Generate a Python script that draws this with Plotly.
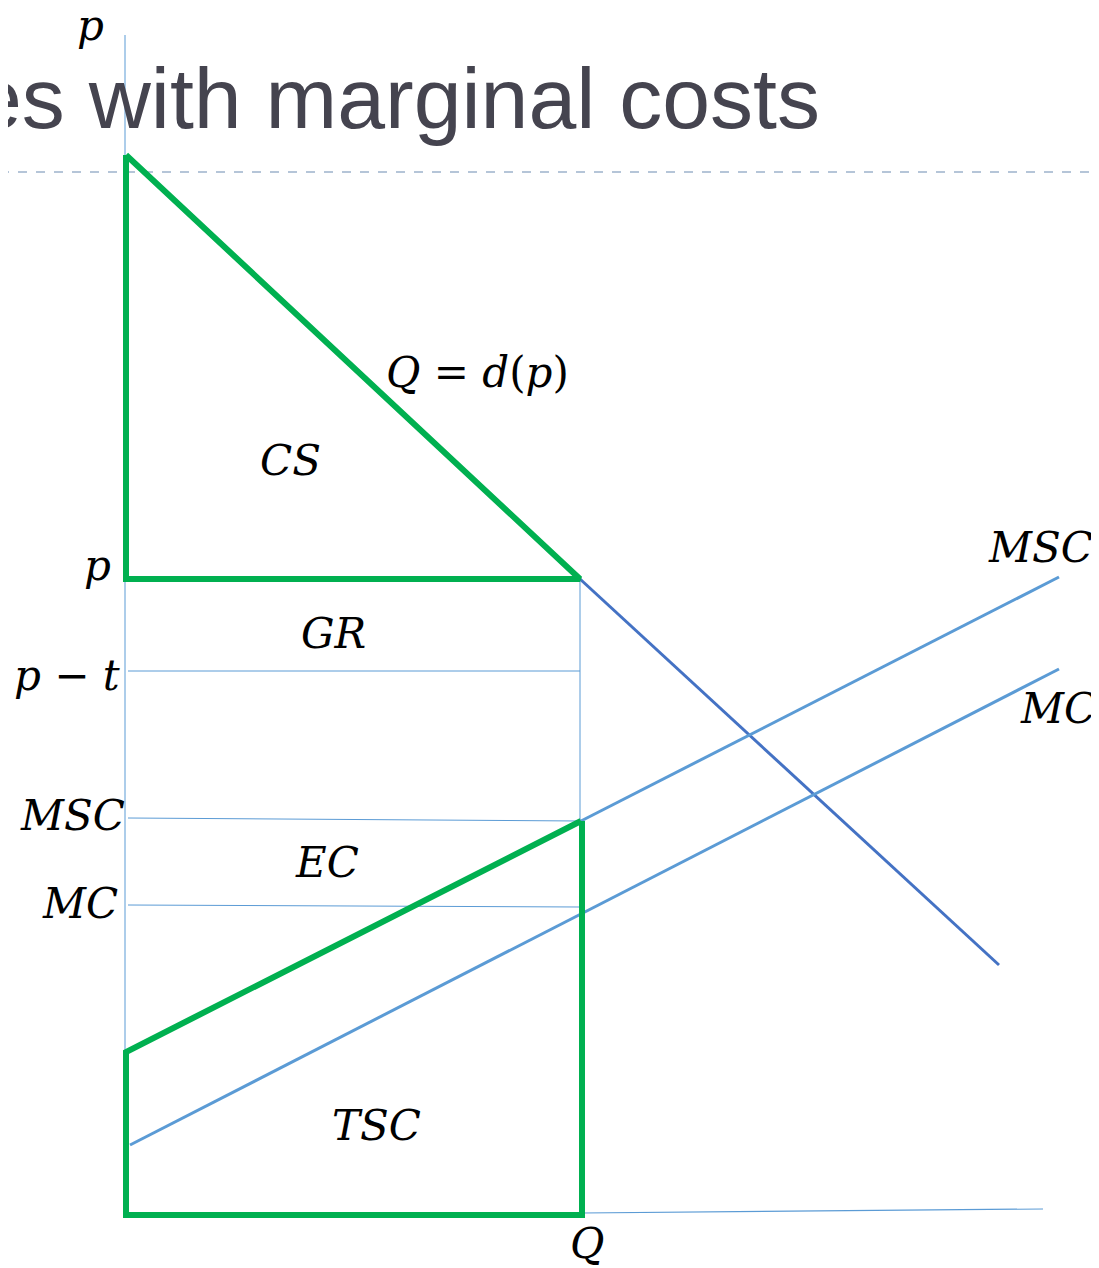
import plotly.graph_objects as go

# Diagram coordinates (origin at the axes corner; 1 unit ~ 1 px, y upward)
axis_p_x = [-1, -1]
axis_p_y = [0, 1180]
axis_q_x = [456, 917]
axis_q_y = [2, 6]

demand_x = [454, 873]          # continuation of Q = d(p) beyond the green triangle
demand_y = [636, 250]
msc_x = [455, 933]
msc_y = [394, 638]
mc_x = [4, 933]
mc_y = [70, 546]

cs_x = [0, 0, 454, 0]          # consumer surplus triangle outline
cs_y = [1060, 636, 636, 1060]
tsc_x = [456, 456, 0, 0, 455]  # total social cost outline
tsc_y = [394, 0, 0, 163, 394]

level_names = ["p - t", "MSC", "MC"]
level_left_y = [544, 397, 310]
level_right_y = [544, 394, 308]
q_star = 454
p_star_y = 636

dash_y = 1043

labels = [
    ("𝑝", -36, 1190), ("𝑄 = 𝑑(𝑝)", 351, 843), ("𝐶𝑆", 164, 755), ("𝑝", -29, 650),
    ("𝐺𝑅", 207, 582), ("𝑝 − 𝑡", -59, 540), ("𝑀𝑆𝐶", 914, 668), ("𝑀𝐶", 932, 507),
    ("𝑀𝑆𝐶", -54, 400), ("𝑀𝐶", -46, 312), ("𝐸𝐶", 201, 353), ("𝑇𝑆𝐶", 250, 90),
    ("𝑄", 461, -28),
]

GREEN = "#00B050"
BLUE = "#5B9BD5"
DBLUE = "#4472C4"

fig = go.Figure()

def line(x, y, color, width, dash=None):
    fig.add_trace(go.Scatter(x=x, y=y, mode="lines", hoverinfo="skip",
                             line=dict(color=color, width=width, dash=dash)))

# thin reference lines
line([-126, 973], [dash_y, dash_y], "#9DB3CB", 1.5, "dash")
line(axis_p_x, axis_p_y, BLUE, 1)
line(axis_q_x, axis_q_y, BLUE, 1.2)
for ly, ry in zip(level_left_y, level_right_y):
    line([2, q_star], [ly, ry], BLUE, 1)
line([q_star, q_star], [p_star_y, level_right_y[1]], BLUE, 1)

# curves
line(demand_x, demand_y, DBLUE, 3)
line(msc_x, msc_y, BLUE, 3)
line(mc_x, mc_y, BLUE, 3)

# green outlines
fig.add_trace(go.Scatter(x=cs_x, y=cs_y, mode="lines", hoverinfo="skip",
                         line=dict(color=GREEN, width=6)))
fig.add_trace(go.Scatter(x=tsc_x, y=tsc_y, mode="lines", hoverinfo="skip",
                         line=dict(color=GREEN, width=6)))

for txt, x, y in labels:
    fig.add_annotation(x=x, y=y, text=txt, showarrow=False,
                       font=dict(family="DejaVu Serif", size=42, color="black"),
                       xanchor="center", yanchor="middle")

fig.add_annotation(x=696, y=1117, text="es with marginal costs", showarrow=False,
                   xanchor="right", yanchor="middle",
                   font=dict(family="Liberation Sans", size=86, color="#45444F"))

fig.update_layout(
    width=1091, height=1260, margin=dict(l=0, r=0, t=0, b=0),
    paper_bgcolor="white", plot_bgcolor="white", showlegend=False,
    xaxis=dict(range=[-118, 973], visible=False, fixedrange=True),
    yaxis=dict(range=[-53, 1207], visible=False, fixedrange=True),
)

fig.write_html("out.html")
